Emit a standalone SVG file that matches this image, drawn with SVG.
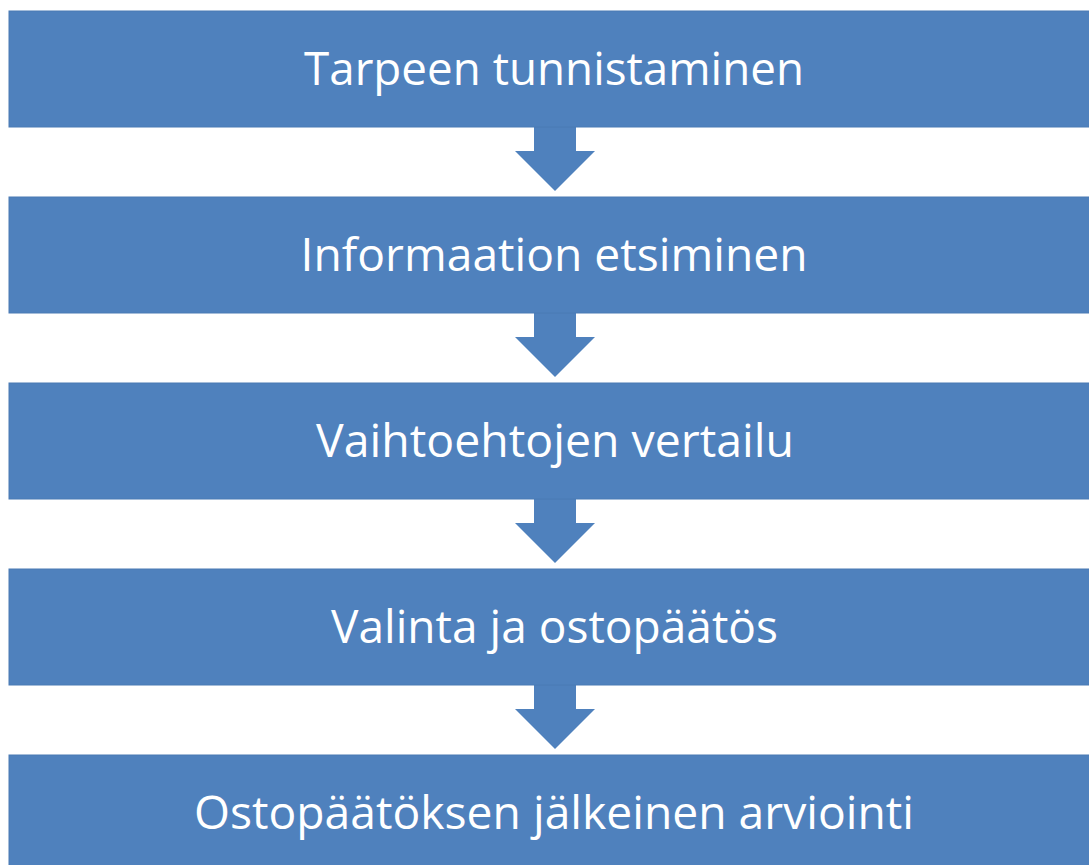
<svg xmlns="http://www.w3.org/2000/svg" width="1089" height="865" viewBox="0 0 1089 865">
<style>
.box{fill:#4F81BD;stroke:#4A7AB4;stroke-width:1}
.arr{fill:#4F81BD}
.lbl{fill:#FFFFFF;font-family:"Open Sans","Liberation Sans",sans-serif;font-size:45px;text-anchor:middle}
</style>
<rect x="0" y="0" width="1089" height="865" fill="#FFFFFF"/>
<g id="connectors">
<path class="arr" d="M534,127 L576,127 L576,151 L595,151 L555,191 L515,151 L534,151 Z"/>
<path class="arr" d="M534,313 L576,313 L576,337 L595,337 L555,377 L515,337 L534,337 Z"/>
<path class="arr" d="M534,499 L576,499 L576,523 L595,523 L555,563 L515,523 L534,523 Z"/>
<path class="arr" d="M534,685 L576,685 L576,709 L595,709 L555,749 L515,709 L534,709 Z"/>
</g>
<g id="node1"><rect class="box" x="9" y="11" width="1095" height="116"/><text class="lbl" x="554" y="85" textLength="500" lengthAdjust="spacingAndGlyphs">Tarpeen tunnistaminen</text></g>
<g id="node2"><rect class="box" x="9" y="197" width="1095" height="116"/><text class="lbl" x="554" y="271" textLength="507" lengthAdjust="spacingAndGlyphs">Informaation etsiminen</text></g>
<g id="node3"><rect class="box" x="9" y="383" width="1095" height="116"/><text class="lbl" x="555" y="457" textLength="478" lengthAdjust="spacingAndGlyphs">Vaihtoehtojen vertailu</text></g>
<g id="node4"><rect class="box" x="9" y="569" width="1095" height="116"/><text class="lbl" x="554.5" y="643" textLength="447" lengthAdjust="spacingAndGlyphs">Valinta ja ostopäätös</text></g>
<g id="node5"><rect class="box" x="9" y="755" width="1095" height="116"/><text class="lbl" x="554" y="829" textLength="720" lengthAdjust="spacingAndGlyphs">Ostopäätöksen jälkeinen arviointi</text></g>
</svg>
